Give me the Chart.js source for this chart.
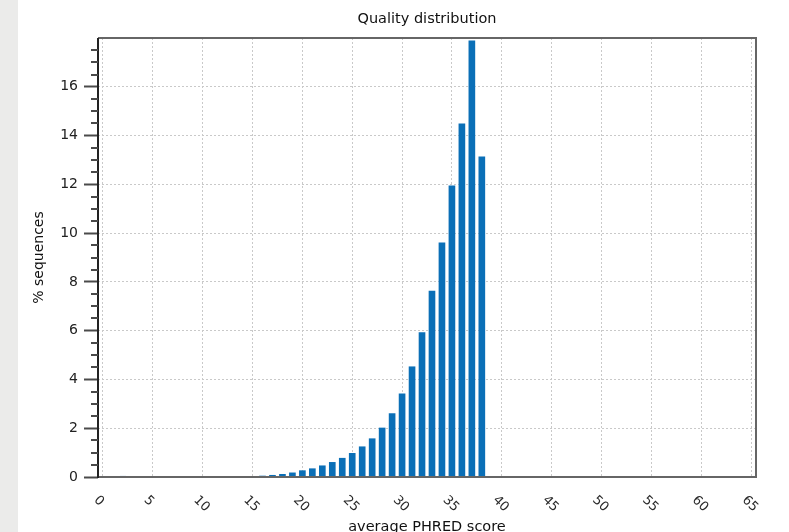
<!DOCTYPE html>
<html>
<head>
<meta charset="utf-8">
<title>Quality distribution</title>
<script src="https://cdn.jsdelivr.net/npm/chart.js@4/dist/chart.umd.min.js"></script>
<style>
  html, body { margin: 0; padding: 0; background: #ffffff; }
  #wrap { width: 789px; height: 532px; position: relative; }
</style>
</head>
<body>
<div id="wrap"><canvas id="chart" width="789" height="532"></canvas></div>
<script>
// average PHRED score (x) and % of sequences (y)
const phredScores = [2, 15, 16, 17, 18, 19, 20, 21, 22, 23, 24, 25, 26, 27, 28, 29, 30, 31, 32, 33, 34, 35, 36, 37, 38];
const percentSequences = [0.03, 0.02, 0.04, 0.07, 0.11, 0.17, 0.26, 0.34, 0.46, 0.6, 0.77, 0.97, 1.24, 1.57, 2.01, 2.6, 3.41, 4.52, 5.92, 7.62, 9.6, 11.94, 14.48, 17.88, 13.13];
const xTicks = [0, 5, 10, 15, 20, 25, 30, 35, 40, 45, 50, 55, 60, 65];
const yTicks = [0, 2, 4, 6, 8, 10, 12, 14, 16];
const yMinorTicks = [0.5, 1, 1.5, 2.5, 3, 3.5, 4.5, 5, 5.5, 6.5, 7, 7.5, 8.5, 9, 9.5, 10.5, 11, 11.5, 12.5, 13, 13.5, 14.5, 15, 15.5, 16.5, 17, 17.5];

(function () {
  const barColor = "#0a6fb7";
  const gridColor = "#c9c9c9";
  const axisColor = "#4a4a4a";
  const font = "'DejaVu Sans', sans-serif";

  const frame = {
    id: "frame",
    beforeDraw(chart) {
      const { ctx } = chart;
      ctx.save();
      ctx.fillStyle = "#ffffff";
      ctx.fillRect(0, 0, chart.width, chart.height);
      ctx.fillStyle = "#ebebea";
      ctx.fillRect(0, 0, 18, chart.height);
      ctx.restore();
    },
    afterDraw(chart) {
      const { ctx, chartArea: a } = chart;
      const x = chart.scales.x;
      const y = chart.scales.y;
      const midX = (a.left + a.right) / 2;
      ctx.save();

      // plot frame
      ctx.lineWidth = 2;
      ctx.strokeStyle = "#666666";
      ctx.beginPath();
      ctx.moveTo(a.left, a.top);
      ctx.lineTo(a.right, a.top);
      ctx.lineTo(a.right, a.bottom);
      ctx.lineTo(a.left, a.bottom);
      ctx.stroke();
      ctx.strokeStyle = "#222222";
      ctx.beginPath();
      ctx.moveTo(a.left, a.top);
      ctx.lineTo(a.left, a.bottom + 1);
      ctx.stroke();

      // minor ticks on y
      ctx.strokeStyle = axisColor;
      ctx.lineWidth = 2;
      yMinorTicks.forEach((v) => {
        const py = Math.round(y.getPixelForValue(v));
        ctx.beginPath();
        ctx.moveTo(a.left - 7, py);
        ctx.lineTo(a.left, py);
        ctx.stroke();
      });

      // title over the plot area
      ctx.fillStyle = "#111111";
      ctx.font = `14.5px ${font}`;
      ctx.textAlign = "center";
      ctx.textBaseline = "middle";
      ctx.fillText("Quality distribution", midX, 19);

      // rotated x labels
      ctx.fillStyle = "#2a2a2a";
      ctx.font = `13px ${font}`;
      ctx.textAlign = "left";
      xTicks.forEach((v) => {
        const px = x.getPixelForValue(v);
        ctx.save();
        ctx.translate(px - 7, a.bottom + 21);
        ctx.rotate(Math.PI / 4);
        ctx.fillText(String(v), 0, 0);
        ctx.restore();
      });

      // x axis title
      ctx.fillStyle = "#111111";
      ctx.font = `14.5px ${font}`;
      ctx.textAlign = "center";
      ctx.textBaseline = "alphabetic";
      ctx.fillText("average PHRED score", midX, 531);
      ctx.restore();
    }
  };

  new Chart(document.getElementById("chart"), {
    type: "bar",
    data: {
      datasets: [{
        label: "% sequences",
        data: phredScores.map((score, i) => ({ x: score, y: percentSequences[i] })),
        backgroundColor: barColor,
        borderWidth: 0,
        barThickness: 6
      }]
    },
    options: {
      responsive: false,
      animation: false,
      devicePixelRatio: 1,
      layout: { padding: { left: 31, right: 33, top: 38, bottom: 55 } },
      plugins: {
        legend: { display: false },
        tooltip: { enabled: false },
        title: { display: false }
      },
      scales: {
        x: {
          type: "linear",
          offset: false,
          min: -0.5,
          max: 65.5,
          afterBuildTicks(scale) {
            scale.ticks = xTicks.map((v) => ({ value: v }));
          },
          afterFit(scale) {
            scale.height = 0;
          },
          ticks: { display: false },
          grid: { color: gridColor, lineWidth: 1, drawTicks: false, offset: false },
          border: { display: false, dash: [2, 2] }
        },
        y: {
          min: 0,
          max: 18,
          afterBuildTicks(scale) {
            scale.ticks = yTicks.map((v) => ({ value: v }));
          },
          afterFit(scale) {
            scale.width = 67;
          },
          ticks: {
            color: "#222222",
            padding: 6,
            font: { family: font, size: 14, weight: "normal" }
          },
          grid: {
            color: gridColor,
            lineWidth: 1,
            tickLength: 14,
            tickColor: axisColor,
            tickWidth: 2
          },
          border: { display: false, dash: [2, 2] },
          title: {
            display: true,
            text: "% sequences",
            color: "#111111",
            padding: { top: 0, bottom: 0 },
            font: { family: font, size: 14, weight: "normal" }
          }
        }
      }
    },
    plugins: [frame]
  });
})();
</script>
</body>
</html>
